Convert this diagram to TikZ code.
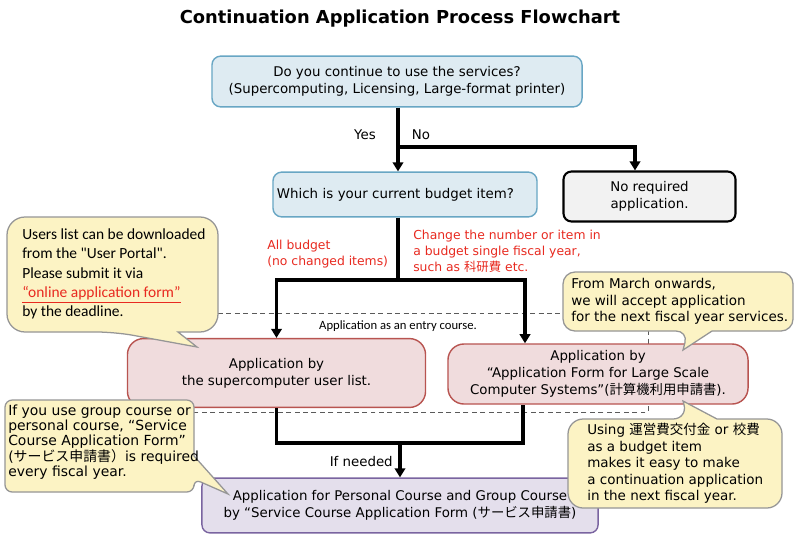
\documentclass[tikz,border=0pt]{standalone}
\usepackage{fontspec}
\setmainfont{DejaVu Sans}
\newfontfamily\calfont{Carlito}
\newfontfamily\jpfont{Noto Sans CJK JP}
\usepackage{xcolor}
\usetikzlibrary{arrows.meta,positioning,calc}
\definecolor{qfill}{RGB}{222,235,242}
\definecolor{qline}{RGB}{104,166,196}
\definecolor{nfill}{RGB}{242,242,242}
\definecolor{pfill}{RGB}{240,220,221}
\definecolor{pline}{RGB}{184,84,80}
\definecolor{vfill}{RGB}{228,223,236}
\definecolor{vline}{RGB}{122,100,160}
\definecolor{cfill}{RGB}{252,243,196}
\definecolor{cline}{RGB}{150,150,150}
\definecolor{frame}{RGB}{90,90,90}
\definecolor{redtxt}{RGB}{232,42,32}
\newcommand{\jp}[1]{{\jpfont #1}}
\newcommand{\boxfont}{\fontsize{9.5}{12}\selectfont}
\newcommand{\notefont}{\fontsize{9.6}{11.8}\selectfont}

\begin{document}
\begin{tikzpicture}[x=0.025cm,y=-0.025cm,
  box/.style={draw, line width=1pt, align=center, font=\boxfont, inner sep=0pt},
  qbox/.style={box, draw=qline, fill=qfill, rounded corners=0.22cm},
  nbox/.style={box, draw=black, fill=nfill, line width=1.5pt, rounded corners=0.2cm},
  pbox/.style={box, draw=pline, fill=pfill, rounded corners=0.4cm},
  vbox/.style={box, draw=vline, fill=vfill, rounded corners=0.2cm},
  flow/.style={line width=2.4pt},
  arr/.style={flow, -{Triangle[width=7.5pt,length=6.5pt]}},
  callout/.style={draw=cline, fill=cfill, line width=0.9pt},
  note/.style={align=left, inner sep=0pt, anchor=west, font=\notefont},
  lbl/.style={inner sep=0pt, font=\boxfont},
  redlbl/.style={lbl, align=left, anchor=west, text=redtxt, font=\fontsize{8.8}{11.4}\selectfont}]
\path[fill=white] (0,0) rectangle (800,542);

\node[font=\fontsize{12.7}{15}\selectfont\bfseries] (title) at (400,19) {Continuation Application Process Flowchart};

% entry course frame
\draw[frame, line width=0.6pt, dash pattern=on 3.5pt off 2.5pt] (218,313) -| (648,412) -- (194,412);
\node[lbl, font=\calfont\fontsize{9}{11}\selectfont] (entry) at (398,326) {Application as an entry course.};

\node[qbox, minimum width=9.25cm, minimum height=1.27cm] (cont) at (397,81.5) {Do you continue to use the services?\\(Supercomputing, Licensing, Large-format printer)};
\node[qbox, text width=6.4cm, align=left, inner xsep=0.1cm, minimum height=1.12cm] (budget) at (405,194.5) {Which is your current budget item?};
\node[nbox, minimum width=4.3cm, minimum height=1.25cm] (noreq) at (649.5,196.5) {No required\\application.};
\node[pbox, minimum width=7.45cm, minimum height=1.72cm] (ulist) at (276.5,373) {Application by\\the supercomputer user list.};
\node[pbox, minimum width=7.5cm, minimum height=1.5cm] (lsform) at (598,374) {Application by\\“Application Form for Large Scale\\Computer Systems”(\jp{計算機利用申請書}).};
\node[vbox, minimum width=9.9cm, minimum height=1.37cm] (scform) at (400,505.5) {Application for Personal Course and Group Course\\by “Service Course Application Form (\jp{サービス申請書})};

% yes / no
\coordinate (fork) at (398,147);
\coordinate (noin) at (635,147);
\draw[arr] (cont.south -| fork) -- (budget.north -| fork);
\draw[arr] (fork) -| (noreq.north -| noin);
\node[lbl] (yes) at (365,135) {Yes};
\node[lbl] (no) at (421,135) {No};

% budget split
\coordinate (split) at (398,280);
\coordinate (rdrop) at (525,280);
\draw[flow] (budget.south -| split) -- (split);
\draw[arr] (split) -| (ulist.north);
\draw[arr] (split) -| (lsform.north -| rdrop);
\node[redlbl] (allbud) at (267,254) {All budget\\(no changed items)};
\node[redlbl] (chgbud) at (413,251.5) {Change the number or item in\\a budget single fiscal year,\\such as \jp{科研費} etc.};

% merge
\coordinate (merge) at (400,443);
\coordinate (rup) at (523,443);
\draw[flow] (ulist.south) |- (merge) -| (lsform.south -| rup);
\draw[arr] (merge) -- (scform.north -| merge);
\node[lbl, anchor=east] (ifneed) at (393,462) {If needed};

% callouts
\draw[callout] (160,217) [rounded corners=0.45cm] -- (7,217) -- (7,332) -- (115,332) [sharp corners] -- (197,347) -- (178,332) [rounded corners=0.45cm] -- (218,332) -- (218,217) -- cycle;
\node[note, font=\calfont\fontsize{11}{13.7}\selectfont] (tipportal) at (22,274) {Users list can be downloaded\\from the "User Portal".\\Please submit it via\\\textcolor{redtxt}{\underline{“online application form”}}\\by the deadline.};

\draw[callout] (620,272) [rounded corners=0.3cm] -- (563,272) -- (563,331) -- (688,331) [sharp corners] -- (683,350) -- (712,331) [rounded corners=0.3cm] -- (793,331) -- (793,272) -- cycle;
\node[note] (tipmarch) at (571,301.5) {From March onwards,\\we will accept application\\for the next fiscal year services.};

\draw[callout] (100,400) [rounded corners=0.18cm] -- (5,400) -- (5,492) -- (194,492) -- (194,479) [sharp corners] -- (228,494) -- (194,456) [rounded corners=0.18cm] -- (194,400) -- cycle;
\node[note, font=\fontsize{9.9}{10.8}\selectfont] (tipgroup) at (8,442) {If you use group course or\\personal course, “Service\\Course Application Form”\\(\jp{サービス申請書）}is required\\every fiscal year.};

\draw[callout] (620,508) [rounded corners=0.38cm] -- (568,508) -- (568,419) -- (688,419) [sharp corners] -- (683,401) -- (717,419) [rounded corners=0.38cm] -- (782,419) -- (782,508) -- cycle;
\node[note] (tipbudget) at (587,463.5) {Using \jp{運営費交付金} or \jp{校費}\\as a budget item\\makes it easy to make\\a continuation application\\in the next fiscal year.};
\end{tikzpicture}
\end{document}
